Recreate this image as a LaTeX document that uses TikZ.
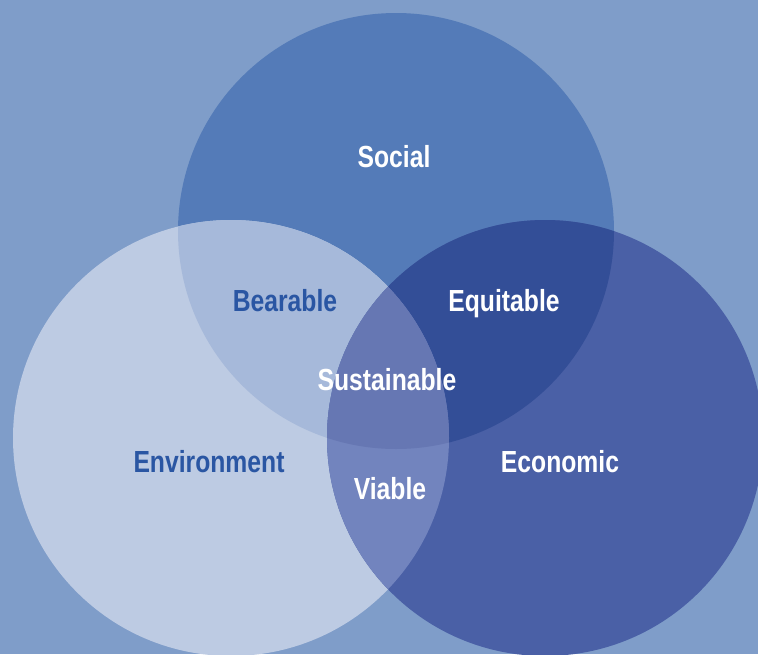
\documentclass[tikz,border=0pt]{standalone}
\usepackage{fontspec}
\setmainfont{Liberation Sans}[FakeStretch=0.81]
\definecolor{bgc}{HTML}{7F9DC9}
\definecolor{socc}{HTML}{547BB8}
\definecolor{envc}{HTML}{BDCBE3}
\definecolor{ecoc}{HTML}{4A60A6}
\definecolor{bearc}{HTML}{A6B9DA}
\definecolor{equic}{HTML}{334E97}
\definecolor{viac}{HTML}{7284BE}
\definecolor{susc}{HTML}{6677B3}
\definecolor{darktext}{HTML}{2A56A3}
\tikzset{
  lbl/.style={font=\fontsize{30.5}{33}\selectfont\bfseries, text=white, inner sep=0pt, anchor=base},
  dlbl/.style={lbl, text=darktext}
}
\begin{document}
\begin{tikzpicture}[x=1pt,y=-1pt]
\useasboundingbox (0,0) rectangle (758,654);
\fill[bgc] (0,0) rectangle (758,654);
\def\soc{(396,231) circle (218)}
\def\env{(231,438) circle (218)}
\def\eco{(545,438) circle (218)}
\begin{scope}
\clip (0,0) rectangle (758,654);
\fill[socc] \soc;
\fill[envc] \env;
\fill[ecoc] \eco;
\begin{scope}\clip \soc; \fill[bearc] \env; \end{scope}
\begin{scope}\clip \soc; \fill[equic] \eco; \end{scope}
\begin{scope}\clip \env; \fill[viac] \eco; \end{scope}
\begin{scope}\clip \soc; \clip \env; \fill[susc] \eco; \end{scope}
\end{scope}
\node[lbl] (social) at (394,167.5) {Social};
\node[dlbl] (bearable) at (285,311) {Bearable};
\node[lbl] (equitable) at (504,311) {Equitable};
\node[lbl] (sustainable) at (387,390.5) {Sustainable};
\node[dlbl] (environment) at (209,472) {Environment};
\node[lbl] (economic) at (560,472) {Economic};
\node[lbl] (viable) at (390,499) {Viable};
\end{tikzpicture}
\end{document}
